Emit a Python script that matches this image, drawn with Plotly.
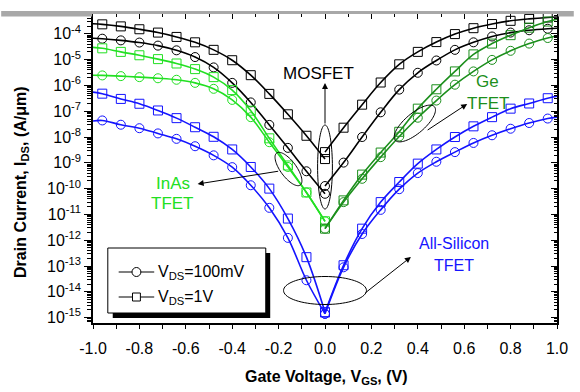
import math
import plotly.graph_objects as go

# Gate voltage sample points (V) for the negative and positive branches
vgs_neg = [-0.96, -0.88, -0.80, -0.72, -0.64, -0.56, -0.48, -0.40, -0.32, -0.24, -0.16, -0.08, 0.0]
vgs_pos = [0.0, 0.08, 0.16, 0.24, 0.32, 0.40, 0.48, 0.56, 0.64, 0.72, 0.80, 0.88, 0.96]

# Drain current (A/um) -- MOSFET
mos_1v_neg = [2.34e-4, 1.95e-4, 1.51e-4, 1.12e-4, 7.6e-5, 4.7e-5, 2.4e-5, 9.5e-6, 2.5e-6, 4.7e-7, 7.6e-8, 1.12e-8, 1.4e-9]
mos_1v_pos = [2.6e-9, 2.3e-8, 1.8e-7, 1.3e-6, 6.6e-6, 2.0e-5, 4.8e-5, 9.8e-5, 1.66e-4, 2.4e-4, 3.2e-4, 3.8e-4, 4.3e-4]
mos_01v_neg = [6.5e-5, 5.6e-5, 4.6e-5, 3.5e-5, 2.3e-5, 1.26e-5, 5.0e-6, 1.26e-6, 2.2e-7, 2.95e-8, 3.8e-9, 4.7e-10, 6.3e-11]
mos_01v_pos = [1.26e-10, 1.02e-9, 1.0e-8, 9.1e-8, 6.9e-7, 3.1e-6, 9.3e-6, 2.4e-5, 4.7e-5, 7.9e-5, 1.12e-4, 1.38e-4, 1.58e-4]

# InAs TFET (negative branch) and Ge TFET (positive branch)
inas_1v = [2.75e-5, 2.0e-5, 1.48e-5, 1.05e-5, 7.1e-6, 4.3e-6, 2.1e-6, 6.6e-7, 1.05e-7, 8.9e-9, 7.9e-10, 7.1e-11, 5.4e-12]
inas_01v = [2.45e-6, 2.3e-6, 2.1e-6, 1.9e-6, 1.66e-6, 1.26e-6, 7.4e-7, 2.75e-7, 5.9e-8, 6.3e-9, 6.9e-10, 7.1e-11, 5.4e-12]
ge_1v = [2.8e-12, 3.5e-11, 3.5e-10, 2.5e-9, 1.6e-8, 1.26e-7, 7.1e-7, 3.5e-6, 1.6e-5, 4.2e-5, 8.9e-5, 1.74e-4, 3.0e-4]
ge_01v = [2.8e-12, 3.0e-11, 2.4e-10, 1.66e-9, 1.05e-8, 5.6e-8, 2.6e-7, 1.07e-6, 3.5e-6, 9.8e-6, 2.2e-5, 4.2e-5, 6.9e-5]

# All-Silicon TFET
si_1v_neg = [4.8e-7, 3.0e-7, 1.95e-7, 1.07e-7, 5.4e-8, 2.4e-8, 1.02e-8, 3.3e-9, 6.9e-10, 1.0e-10, 6.9e-12, 2.2e-13, 1.6e-15]
si_1v_pos = [1.6e-15, 1.07e-13, 2.8e-12, 3.0e-11, 1.8e-10, 9.3e-10, 3.3e-9, 1.0e-8, 2.6e-8, 5.9e-8, 1.26e-7, 2.0e-7, 3.2e-7]
si_01v_neg = [4.4e-8, 3.0e-8, 2.2e-8, 1.38e-8, 8.5e-9, 4.4e-9, 1.95e-9, 6.8e-10, 1.35e-10, 1.8e-11, 1.23e-12, 2.8e-14, 1.4e-15]
si_01v_pos = [1.4e-15, 8.9e-14, 1.74e-12, 1.5e-11, 9.5e-11, 4.0e-10, 1.1e-9, 2.6e-9, 5.9e-9, 1.17e-8, 2.1e-8, 3.5e-8, 5.2e-8]

# Curve values at the ends of the sweep (VGS = -1.0 V / +1.0 V)
edge_neg = {"mos_1v": 2.45e-4, "mos_01v": 6.8e-5, "inas_1v": 3.0e-5, "inas_01v": 2.5e-6,
            "si_1v": 5.5e-7, "si_01v": 4.2e-8}
edge_pos = {"mos_1v": 4.5e-4, "mos_01v": 1.66e-4, "ge_1v": 3.7e-4, "ge_01v": 8.5e-5,
            "si_1v": 3.8e-7, "si_01v": 5.9e-8}

x_ticks = [-1.0, -0.8, -0.6, -0.4, -0.2, 0.0, 0.2, 0.4, 0.6, 0.8, 1.0]
y_decades = list(range(-15, -3))

BLACK = "#000000"
INAS = "#22e022"
GE = "#1c8f1c"
SI = "#1414ff"
FONT = "Liberation Sans, Arial, sans-serif"

W, H = 580, 392
PL, PR, PT, PB = 93, 563, 14, 323


def px(x):
    return (x - PL) / (PR - PL)


def py(y):
    return (PB - y) / (PB - PT)


branches = [
    # key, marker x, values, side, colour, symbol
    ("mos_1v", vgs_neg, mos_1v_neg, "neg", BLACK, "square-open"),
    ("mos_1v", vgs_pos, mos_1v_pos, "pos", BLACK, "square-open"),
    ("mos_01v", vgs_neg, mos_01v_neg, "neg", BLACK, "circle-open"),
    ("mos_01v", vgs_pos, mos_01v_pos, "pos", BLACK, "circle-open"),
    ("inas_1v", vgs_neg, inas_1v, "neg", INAS, "square-open"),
    ("inas_01v", vgs_neg, inas_01v, "neg", INAS, "circle-open"),
    ("ge_1v", vgs_pos, ge_1v, "pos", GE, "square-open"),
    ("ge_01v", vgs_pos, ge_01v, "pos", GE, "circle-open"),
    ("si_1v", vgs_neg, si_1v_neg, "neg", SI, "square-open"),
    ("si_1v", vgs_pos, si_1v_pos, "pos", SI, "square-open"),
    ("si_01v", vgs_neg, si_01v_neg, "neg", SI, "circle-open"),
    ("si_01v", vgs_pos, si_01v_pos, "pos", SI, "circle-open"),
]

fig = go.Figure()
for key, xs, ys, side, color, symbol in branches:
    if side == "neg":
        lx, ly = [-1.0] + xs, [edge_neg[key]] + ys
    else:
        lx, ly = xs + [1.0], ys + [edge_pos[key]]
    fig.add_trace(go.Scatter(x=lx, y=ly, mode="lines", showlegend=False, hoverinfo="skip",
                             line=dict(color=color, width=1.6, shape="spline", smoothing=1.0)))
    fig.add_trace(go.Scatter(x=xs, y=ys, mode="markers", showlegend=False,
                             marker=dict(symbol=symbol, size=9, color=color, line=dict(width=1, color=color))))

# empty trace so the mirrored top/right axes get drawn
fig.add_trace(go.Scatter(x=[None], y=[None], xaxis="x2", yaxis="y2", showlegend=False, hoverinfo="skip"))

y_range = [-15.21, -3.23]
minor_y = [k * 10.0 ** d for d in range(-16, -3) for k in range(2, 10)]
tick_font = dict(family=FONT, size=16, color="black")

fig.update_layout(
    width=W, height=H, autosize=False,
    margin=dict(l=PL, r=W - PR, t=PT, b=H - PB, pad=0),
    paper_bgcolor="white", plot_bgcolor="white",
    font=dict(family=FONT, color="black"),
    xaxis=dict(range=[-1, 1], tickmode="array", tickvals=x_ticks,
               ticktext=["%.1f" % v if v >= 0 else "-%.1f" % abs(v) for v in x_ticks],
               ticks="outside", ticklen=4, tickwidth=1, tickcolor="black",
               minor=dict(tickmode="linear", tick0=-1, dtick=0.1, ticks="outside", ticklen=4, tickcolor="black"),
               showline=True, linecolor="black", linewidth=1.6, mirror=False,
               showgrid=False, zeroline=False, tickfont=tick_font, ticklabelstandoff=6),
    yaxis=dict(type="log", range=y_range, tickmode="array",
               tickvals=[10.0 ** d for d in y_decades],
               ticktext=["10<sup>%d</sup>" % d for d in y_decades],
               ticks="outside", ticklen=7, tickwidth=1, tickcolor="black",
               minor=dict(tickmode="array", tickvals=minor_y, ticks="outside", ticklen=4, tickcolor="black"),
               showline=True, linecolor="black", linewidth=1.6, mirror=False,
               showgrid=False, zeroline=False, tickfont=tick_font),
    xaxis2=dict(range=[-1, 1], overlaying="x", side="top", tickmode="array", tickvals=x_ticks,
                ticks="inside", ticklen=5, tickcolor="black", showticklabels=False,
                minor=dict(tickmode="linear", tick0=-1, dtick=0.1, ticks="inside", ticklen=3, tickcolor="black"),
                showline=True, linecolor="black", linewidth=1.6, showgrid=False, zeroline=False),
    yaxis2=dict(type="log", range=y_range, overlaying="y", side="right", tickmode="array",
                tickvals=[10.0 ** d for d in y_decades], ticks="inside", ticklen=6, tickcolor="black",
                showticklabels=False,
                minor=dict(tickmode="array", tickvals=minor_y, ticks="inside", ticklen=3, tickcolor="black"),
                showline=True, linecolor="black", linewidth=1.6, showgrid=False, zeroline=False),
)


def ellipse_path(cx, cy, a, b, ang):
    t = math.radians(ang)
    pts = []
    for i in range(73):
        s = 2 * math.pi * i / 72
        x = cx + a * math.cos(s) * math.cos(t) - b * math.sin(s) * math.sin(t)
        y = cy + a * math.cos(s) * math.sin(t) + b * math.sin(s) * math.cos(t)
        pts.append("%.5f,%.5f" % (px(x), py(y)))
    return "M " + " L ".join(pts) + " Z"


shapes = []
# grey strip along the top edge of the page
shapes.append(dict(type="rect", xref="paper", yref="paper", x0=px(0), x1=px(W), y0=py(14), y1=py(11),
                   fillcolor="#a8a8a8", line=dict(width=0), layer="above"))
shapes.append(dict(type="rect", xref="paper", yref="paper", x0=px(0), x1=px(PL - 1), y0=py(16.5), y1=py(14),
                   fillcolor="#a8a8a8", line=dict(width=0), layer="above"))
shapes.append(dict(type="rect", xref="paper", yref="paper", x0=px(PR + 1), x1=px(W), y0=py(16.5), y1=py(14),
                   fillcolor="#a8a8a8", line=dict(width=0), layer="above"))

# ellipses marking each device group
for cx, cy, a, b, ang in [(328, 167, 7.5, 42, 0), (291, 169, 20, 8, 53),
                          (419, 123.5, 26, 10, -40), (328, 290.5, 42, 14, 0)]:
    shapes.append(dict(type="path", xref="paper", yref="paper", path=ellipse_path(cx, cy, a, b, ang),
                       line=dict(color="black", width=1), layer="above"))

# legend box with drop shadow
shapes.append(dict(type="rect", xref="paper", yref="paper", x0=px(113), x1=px(272.5), y0=py(318), y1=py(253),
                   fillcolor="black", line=dict(width=0), layer="above"))
shapes.append(dict(type="rect", xref="paper", yref="paper", x0=px(108), x1=px(268), y0=py(313), y1=py(248),
                   fillcolor="white", line=dict(color="black", width=1), layer="above"))
for ly in (272, 297):
    shapes.append(dict(type="line", xref="paper", yref="paper", x0=px(119), x1=px(155), y0=py(ly), y1=py(ly),
                       line=dict(color="black", width=1.2), layer="above"))
shapes.append(dict(type="circle", xref="paper", yref="paper", x0=px(132.5), x1=px(141.5), y0=py(276.5), y1=py(267.5),
                   fillcolor="white", line=dict(color="black", width=1), layer="above"))
shapes.append(dict(type="rect", xref="paper", yref="paper", x0=px(133), x1=px(141), y0=py(301), y1=py(293),
                   fillcolor="white", line=dict(color="black", width=1), layer="above"))
fig.update_layout(shapes=shapes)

ann = []


def label(x, y, text, color, size=17, bold=False, anchor="center", angle=0):
    ann.append(dict(xref="paper", yref="paper", x=px(x), y=py(y), text=("<b>%s</b>" % text) if bold else text,
                    showarrow=False, xanchor=anchor, yanchor="middle", textangle=angle,
                    font=dict(family=FONT, size=size, color=color)))


def arrow(hx, hy, tx, ty):
    ann.append(dict(xref="paper", yref="paper", x=px(hx), y=py(hy), ax=tx - hx, ay=ty - hy, text="",
                    showarrow=True, arrowhead=2, arrowsize=1.2, arrowwidth=1, arrowcolor="black", standoff=0))


label(321, 73.5, "MOSFET", BLACK)
arrow(328, 83, 328, 125)
label(174, 183, "InAs", INAS)
label(174, 203.5, "TFET", INAS)
arrow(199, 184, 281, 171)
label(493, 81.5, "Ge", GE)
label(493.5, 103.5, "TFET", GE)
arrow(472, 104, 431, 131)
label(458.5, 243.5, "All-Silicon", SI, size=16)
label(459, 265, "TFET", SI, size=16)
arrow(415, 257, 368, 294)

label(157, 272, "V<sub>DS</sub>=100mV", BLACK, size=16, anchor="left")
label(157, 297, "V<sub>DS</sub>=1V", BLACK, size=16, anchor="left")

label(330, 377, "Gate Voltage, V<sub>GS</sub>, (V)", BLACK, size=16, bold=True)
label(20, 182, "Drain Current, I<sub>DS</sub>, (A/μm)", BLACK, size=16, bold=True, angle=-90)
fig.update_layout(annotations=ann)

fig.write_html("out.html")
